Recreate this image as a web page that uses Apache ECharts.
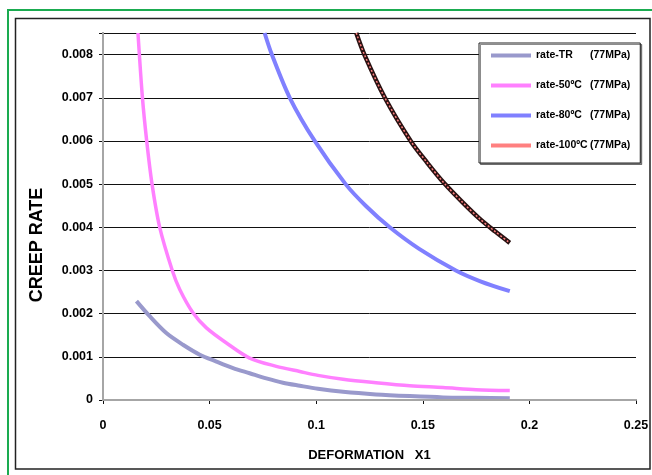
<!DOCTYPE html>
<html>
<head>
<meta charset="utf-8">
<script src="https://cdn.jsdelivr.net/npm/echarts@6/dist/echarts.min.js"></script>
<style>
html,body{margin:0;padding:0;background:#fff;}
#chart{width:652px;height:475px;}
</style>
</head>
<body>
<div id="chart"></div>
<script>
// ---- data ----
var seriesNames = ['rate-TR', 'rate-50ºC', 'rate-80ºC', 'rate-100ºC'];
var pressureLabel = '(77MPa)';
var xTicks = [0, 0.05, 0.1, 0.15, 0.2, 0.25];
var yTicks = [0, 0.001, 0.002, 0.003, 0.004, 0.005, 0.006, 0.007, 0.008];

var trX = [0.0157, 0.0219, 0.0297, 0.0375, 0.0454, 0.0532, 0.061, 0.0688, 0.0766, 0.0844, 0.0923, 0.1008, 0.1126, 0.128, 0.1439, 0.1595, 0.175, 0.1908];
var trY = [0.00229, 0.00194, 0.00155, 0.00128, 0.00105, 0.00089, 0.00074, 0.00062, 0.00050, 0.00040, 0.00033, 0.00026, 0.00019, 0.00013, 0.00009, 0.00006, 0.00005, 0.00004];

var c50X = [0.0164, 0.0185, 0.0205, 0.023, 0.0266, 0.0325, 0.036, 0.0422, 0.0485, 0.0579, 0.0688, 0.0813, 0.0923, 0.1008, 0.1126, 0.128, 0.1439, 0.1595, 0.175, 0.1908];
var c50Y = [0.0085, 0.007, 0.006, 0.005, 0.004, 0.003, 0.00256, 0.00202, 0.00167, 0.00132, 0.00097, 0.00078, 0.00066, 0.00057, 0.00048, 0.0004, 0.00033, 0.00029, 0.00024, 0.00022];

var c80X = [0.0758, 0.0792, 0.0876, 0.0993, 0.1138, 0.1232, 0.1345, 0.1483, 0.1655, 0.177, 0.1908];
var c80Y = [0.0085, 0.008, 0.007, 0.006, 0.005, 0.0045, 0.004, 0.0035, 0.003, 0.00275, 0.00252];

var c100X = [0.1188, 0.1226, 0.1322, 0.1443, 0.152, 0.1604, 0.1682, 0.1766, 0.184, 0.1908];
var c100Y = [0.0085, 0.008, 0.007, 0.006, 0.0055, 0.005, 0.0046, 0.0042, 0.0039, 0.00364];

// ---- build ----
function pairs(xs, ys) { return xs.map(function (x, i) { return [x, ys[i]]; }); }

var sans = "'Liberation Sans', Arial, sans-serif";

var chart = echarts.init(document.getElementById('chart'), null, { renderer: 'canvas' });

var colors = ['#9999CC', '#FF80FF', '#8080FF', '#FF8080'];

var option = {
  animation: false,
  backgroundColor: '#fff',
  grid: { left: 103, top: 33, right: 16, bottom: 75, containLabel: false },
  graphic: [
    { type: 'rect', shape: { x: 8, y: 10, width: 700, height: 500 }, style: { fill: 'none', stroke: '#1aab50', lineWidth: 2 }, silent: true },
    { type: 'rect', shape: { x: 15.5, y: 18.5, width: 634.5, height: 450.5 }, style: { fill: 'none', stroke: '#222', lineWidth: 1.5 }, silent: true },
    { type: 'text', x: 37, y: 245, rotation: Math.PI / 2,
      style: { text: 'CREEP RATE', fill: '#000', font: "bold 18px 'Liberation Sans', Arial, sans-serif", textAlign: 'center', textVerticalAlign: 'middle' } }
  ],
  legend: {
    orient: 'vertical',
    left: 479, top: 43,
    padding: [7, 10, 12, 12],
    itemGap: 19,
    itemWidth: 40, itemHeight: 4,
    icon: 'rect',
    backgroundColor: '#fff',
    borderColor: '#222', borderWidth: 1,
    shadowColor: 'rgba(0,0,0,0.45)', shadowOffsetX: 1.5, shadowOffsetY: 1.5, shadowBlur: 0,
    data: seriesNames,
    itemTextGap: 1,
    formatter: function (n) { return '{a|' + n + '}{b|' + pressureLabel + '}'; },
    textStyle: {
      color: '#000', fontWeight: 'bold', fontSize: 10.5, fontFamily: sans,
      rich: {
        a: { width: 54, fontWeight: 'bold', fontSize: 10.5, fontFamily: sans, color: '#000' },
        b: { fontWeight: 'bold', fontSize: 10.5, fontFamily: sans, color: '#000' }
      }
    }
  },
  xAxis: [{
    type: 'value', min: xTicks[0], max: xTicks[xTicks.length - 1], interval: 0.05,
    name: 'DEFORMATION   X1', nameLocation: 'middle', nameGap: 49,
    nameTextStyle: { color: '#000', fontWeight: 'bold', fontSize: 13, fontFamily: sans },
    axisLine: { show: true, onZero: false, lineStyle: { color: '#111', width: 1.5 } },
    axisTick: { show: true, inside: false, length: 4, lineStyle: { color: '#111', width: 1 } },
    axisLabel: { margin: 19, color: '#000', fontWeight: 'bold', fontSize: 12.5, fontFamily: sans,
      formatter: function (v) { return String(+v.toFixed(3)); } },
    splitLine: { show: false }
  }, {
    type: 'value', position: 'top', min: xTicks[0], max: xTicks[xTicks.length - 1], z: 5,
    axisLine: { show: true, lineStyle: { color: '#a6a6a6', width: 2 } },
    axisTick: { show: false }, axisLabel: { show: false }, splitLine: { show: false }
  }],
  yAxis: [{
    type: 'value', min: 0, max: 0.0085, interval: 0.001,
    axisLine: { show: true, onZero: false, lineStyle: { color: '#111', width: 1.5 } },
    axisTick: { show: true, inside: false, length: 4, lineStyle: { color: '#111', width: 1 } },
    axisLabel: { margin: 10, color: '#000', fontWeight: 'bold', fontSize: 12.5, fontFamily: sans,
      formatter: function (v) { if (v > 0.00805) return ''; return String(+v.toFixed(4)); } },
    splitLine: { show: true, lineStyle: { color: '#111', width: 1 } }
  }, {
    type: 'value', position: 'right', min: 0, max: 0.0085, z: 5,
    axisLine: { show: true, lineStyle: { color: '#a6a6a6', width: 2 } },
    axisTick: { show: false }, axisLabel: { show: false }, splitLine: { show: false }
  }],
  series: [
    { name: seriesNames[0], type: 'line', data: pairs(trX, trY), showSymbol: false, smooth: 0.3,
      lineStyle: { color: colors[0], width: 4 }, itemStyle: { color: colors[0] } },
    { name: seriesNames[1], type: 'line', data: pairs(c50X, c50Y), showSymbol: false, smooth: 0.3,
      lineStyle: { color: colors[1], width: 3.5 }, itemStyle: { color: colors[1] } },
    { name: seriesNames[2], type: 'line', data: pairs(c80X, c80Y), showSymbol: false, smooth: 0.3,
      lineStyle: { color: colors[2], width: 4 }, itemStyle: { color: colors[2] } },
    { name: 'outline-100', type: 'line', data: pairs(c100X, c100Y), showSymbol: false, smooth: 0.3,
      lineStyle: { color: '#2a1212', width: 4.5 }, itemStyle: { color: '#2a1212' }, silent: true },
    { name: seriesNames[3], type: 'line', data: pairs(c100X, c100Y), showSymbol: false, smooth: 0.3,
      lineStyle: { color: colors[3], width: 1.5, type: [2, 2] }, itemStyle: { color: colors[3] } }
  ]
};
chart.setOption(option);
</script>
</body>
</html>
